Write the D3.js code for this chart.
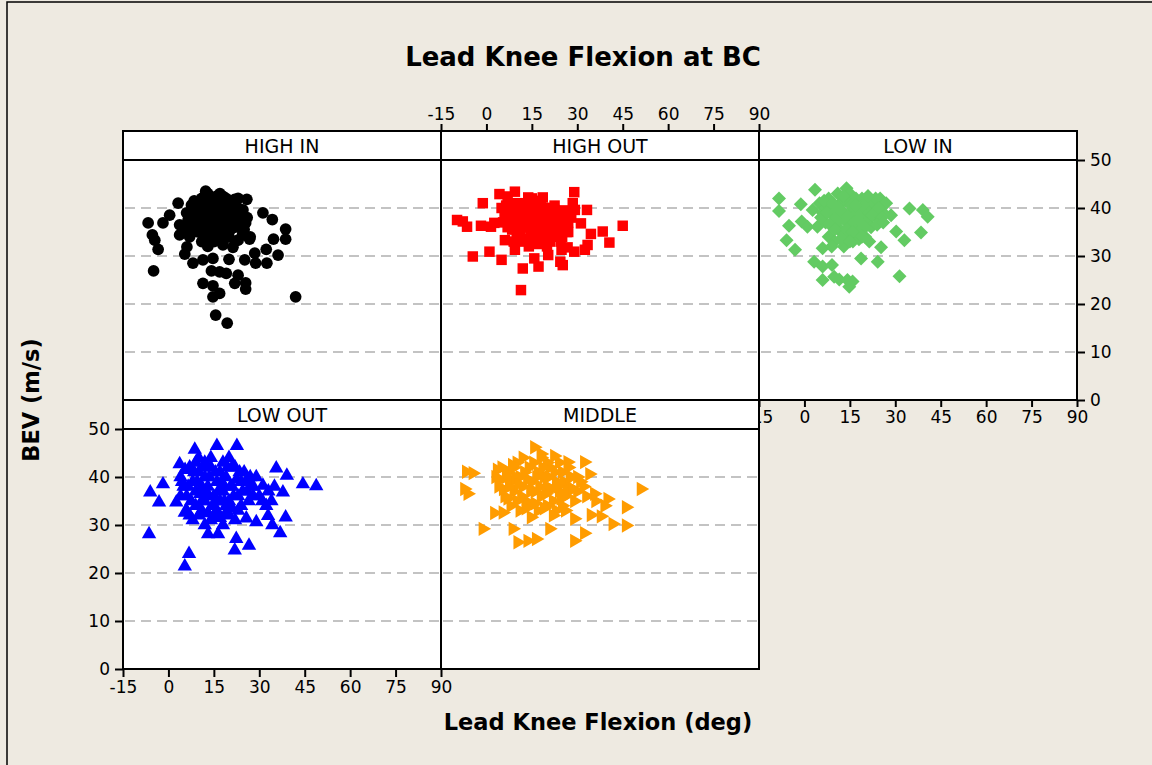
<!DOCTYPE html>
<html><head><meta charset="utf-8">
<script src="https://cdn.jsdelivr.net/npm/d3@7"></script>
<style>
html,body{margin:0;padding:0;background:#EEEAE1;}
svg text{font-family:"DejaVu Sans",sans-serif;}
</style></head>
<body>
<svg id="c" width="1152" height="765"></svg>
<script>
// ---- data (x = lead knee flexion deg, y = BEV m/s) ----
const panelNames = ["HIGH IN","HIGH OUT","LOW IN","LOW OUT","MIDDLE"];
const xTicks = [-15,0,15,30,45,60,75,90];
const yTicks = [0,10,20,30,40,50];
const gridValues = [10,20,30,40];

const highIn = [[12.3,43.5],[3.2,41],[-6.7,36.9],[-5.3,34.4],[-4.5,33.3],[-3.4,31.4],[-4.9,26.9],[-1.8,36.9],[0.4,38.5],[3.7,36.5],[3.7,34.4],[5.4,30.4],[6.1,31.9],[8.1,28.5],[7.6,40.6],[18,42.4],[21.9,41.8],[25.9,41.8],[31.2,39],[34.3,37.6],[38.7,35.6],[38.7,33.5],[34.7,33.5],[36.2,30.2],[32.5,28.5],[28.8,28.5],[25.2,29.2],[28.5,30.6],[32.3,31.4],[26.8,33.5],[23,33.3],[18,32.3],[21.3,31.8],[20,29.3],[14.7,29.5],[11.4,29.2],[14.2,26.9],[16.9,26.7],[19.1,26.4],[23,26],[21.9,24.3],[25.5,24.4],[25.5,23.1],[11.4,24.3],[14.7,23.8],[16.9,22.2],[14.7,21.5],[15.6,17.7],[19.4,16],[42,21.5],[25.5,36.9],[23.5,38.9],[24.6,39.6],
[8,40],[9,38],[10,37],[11,39],[12,36],[13,41],[14,38],[15,40],[16,37],[17,39],[18,36],[19,40],[20,38],[21,37],[22,39],[10,35],[12,34],[14,35],[16,34],[18,33],[9,41],[11,42],[13,43],[15,42],[17,41],[19,42],[21,41],[23,40],[7,38],[8,35],[11,33],[13,32],[15,33],[17,36],[19,35],[20,34],[22,36],[24,37],[6,39],[12,38],[14,37],[16,39],[18,38],[20,40],[10,40],[17,43],[23,42],
[6.5,37.5],[7.5,36],[8.5,41.5],[9.5,39.5],[10.5,36.5],[11.5,34.5],[12.5,39.5],[13.5,37.5],[14.5,40.5],[15.5,36.5],[16.5,41.5],[17.5,38],[18.5,40],[19.5,37],[20.5,35.5],[21.5,39.5],[22.5,38],[23.5,36],[24.5,34.5],[9,36],[11,37.5],[13,34],[15,38],[17,34],[19,38.5],[21,36],[23,37.5],[12,42.5],[16,42.5],[20,41.5],[8,37],[10,39],[14,33.5],[18,34.5],[22,33],[25,35.5],[26,38],[27,34],[7,34],[6,35.5]];

const highOut = [[-9.7,37.5],[-7.8,37.2],[-6.4,36.1],[-4.5,29.9],[-1.8,36.3],[-1.2,41],[1,30.9],[1.5,36.1],[2.6,36.9],[4.3,42.9],[9.4,43.4],[7,42.4],[5,29.2],[6.1,33.3],[9.4,31.3],[12,27.4],[11.4,22.9],[13.8,42.2],[18.6,42.2],[15.8,29.5],[17.2,27.8],[20.4,30.2],[24.4,28.8],[25.2,28.1],[24.8,31.3],[29,43.3],[28.5,41],[29.2,39.6],[33.2,39.6],[31.2,36.8],[34.5,34.6],[38.4,35.1],[40.6,32.8],[45,36.3],[33.4,32.3],[32.5,31.3],[29,30.9],[26.8,31.8],[22.4,39.6],
[5,40],[6,38],[7,36],[8,39],[9,37],[10,41],[11,35],[12,38],[13,40],[14,36],[15,39],[16,37],[17,41],[18,35],[19,38],[20,36],[21,40],[22,37],[23,35],[24,38],[25,36],[26,39],[27,37],[12,33],[14,32],[16,34],[18,33],[20,32],[22,34],[10,34],[15,42],[19,40],[23,39],[13,37],[17,36],[21,38],[25,34],[8,41],[11,39],[27,35],
[5.5,37],[6.5,40.5],[7.5,38],[8.5,35.5],[9.5,39],[10.5,37],[11.5,41],[12.5,36],[13.5,39],[14.5,34.5],[15.5,37.5],[16.5,40],[17.5,38],[18.5,36.5],[19.5,34],[20.5,39],[21.5,36.5],[22.5,40.5],[23.5,37],[24.5,33],[25.5,39.5],[26.5,35],[10,38.5],[12,40],[14,38],[16,35.5],[18,39.5],[20,37.5],[22,35.5],[24,36.5],[13,33.5],[17,32.5],[21,33],[15,35],[19,36],[11,36.5],[9,33],[28,38],[14,41],[18,41.5]];

const lowIn = [[-8.4,42],[-8.4,39.4],[-5.1,36.3],[-5.9,33.3],[-3.1,31.3],[-1.2,40.8],[-0.9,37.2],[1,36.1],[3.5,43.8],[2.7,39.6],[4.3,36.1],[6,31.6],[3.2,28.8],[6,27.8],[9.1,28.1],[6,25],[9.8,25.7],[11.5,25.1],[14.2,25],[14.8,23.6],[15.9,24.7],[13.9,44.1],[18.7,29.5],[24.2,28.8],[25.3,31.8],[31.4,25.8],[28.6,38.5],[30.3,35.1],[33,33.3],[34.7,39.9],[39.1,39.6],[40.7,38.2],[38.5,34.9],[21.4,33],
[5,41],[6,39],[7,37],[8,42],[9,40],[10,38],[11,36],[12,41],[13,39],[14,37],[15,43],[16,40],[17,38],[18,36],[19,42],[20,39],[21,37],[22,41],[23,40],[24,38],[25,42],[26,39],[8,34],[10,33],[12,35],[14,34],[16,33],[18,35],[20,34],[9,32],[13,32],[17,42],[11,43],[19,40],[15,36],[22,36],[27,41],[7,40],
[5.5,38],[6.5,41.5],[7.5,39],[8.5,36.5],[9.5,41],[10.5,39.5],[11.5,37.5],[12.5,39],[13.5,41.5],[14.5,38.5],[15.5,40.5],[16.5,37],[17.5,39.5],[18.5,38],[19.5,36.5],[20.5,41],[21.5,39],[22.5,38.5],[23.5,42],[24.5,40],[25.5,38],[10,35.5],[12,33.5],[14,35.5],[16,35],[18,33.5],[20,36],[15,33],[11,40],[13,42.5],[17,40.5],[21,42.5],[19,34],[24,36.5],[26,37]];

const lowOut = [[8.7,45.7],[16,46.5],[22.6,46.5],[-6.4,28.1],[-6,36.8],[-1.8,38.5],[-3.1,34.7],[6.8,24],[5.4,21.4],[5.4,32.6],[21.9,24.7],[26.6,25.7],[22.4,27.1],[13.1,28.1],[16.4,28.1],[35.6,41.8],[39.1,40.3],[44.4,38.5],[48.8,38.1],[38.7,31.6],[36.9,28.3],[34.3,30],[29,30.6],[25.7,31.4],[32.9,31.9],[32.3,34],[31.2,38.2],[37.8,36.8],[3.7,42.7],[2.6,34.7],
[4,40],[5,38],[6,36],[7,42],[8,39],[9,37],[10,41],[11,35],[12,40],[13,38],[14,42],[15,36],[16,39],[17,41],[18,37],[19,40],[20,35],[21,38],[22,42],[23,36],[24,39],[25,41],[26,37],[27,40],[28,38],[6,33],[8,31],[10,32],[12,30],[14,31],[16,33],[18,30],[20,32],[22,31],[9,43],[12,43],[18,43],[21,42],[24,34],[15,34],[11,38],[17,35],[13,36],[19,34],[4,36],[30,36],[33,37],[35,38],
[4.5,39],[5.5,41.5],[6.5,38],[7.5,35],[8.5,41],[9.5,39],[10.5,36.5],[11.5,42],[12.5,37],[13.5,40],[14.5,34],[15.5,41],[16.5,37],[17.5,39],[18.5,35],[19.5,42],[20.5,38],[21.5,36],[22.5,39.5],[23.5,41],[24.5,37],[25.5,39],[26.5,35],[27.5,38],[7,32],[9,34],[11,33],[13,32.5],[15,32],[17,31.5],[19,32.5],[21,33.5],[23,33],[10,44],[14,44],[20,44],[16,35],[12,35],[18,38.5],[28,36],[29,40],[31,35],[34,35]];

const middle = [[15.8,46.2],[-6.7,41.1],[-4.5,40.8],[-7.3,37.5],[-6.2,36.5],[-1.2,29.2],[2.6,32.5],[5.4,32.6],[8.7,29.2],[10.3,26.4],[13.6,26.7],[16.4,27.1],[20.8,29.2],[29,26.7],[32.3,28.3],[29,31.3],[34.5,32.1],[37.8,31.8],[41.7,30.2],[46.1,29.9],[46.1,33.7],[40,35.4],[51,37.5],[32.3,43.1],[34,40.6],[26.8,43.1],[22.4,44.4],[18,44.8],[35.6,36.5],[14.7,31.6],
[3,40],[4,38],[5,42],[6,36],[7,41],[8,39],[9,37],[10,43],[11,40],[12,38],[13,35],[14,42],[15,39],[16,37],[17,41],[18,36],[19,40],[20,38],[21,42],[22,35],[23,39],[24,37],[25,41],[26,36],[27,38],[28,40],[29,35],[30,37],[8,34],[11,33],[14,34],[17,33],[20,34],[23,33],[26,33],[12,44],[20,43],[9,42],[27,42],[31,39],[33,36],[36,35],[39,34],
[3.5,41.5],[4.5,39.5],[5.5,37.5],[6.5,40],[7.5,38],[8.5,42.5],[9.5,40],[10.5,38.5],[11.5,36],[12.5,41],[13.5,39.5],[14.5,37],[15.5,43],[16.5,40],[17.5,38],[18.5,42],[19.5,36.5],[20.5,40],[21.5,37.5],[22.5,41],[23.5,38],[24.5,35.5],[25.5,39],[26.5,37],[27.5,40],[28.5,37.5],[10,35],[13,33.5],[16,34.5],[19,33.5],[22,32],[25,34],[7,35.5],[18,44],[24,43],[30,40],[32,38]];

const panelData = [highIn, highOut, lowIn, lowOut, middle];
const colors = ["#000000","#FF0000","#63CB63","#0000FF","#FF9C00"];

// ---- layout ----
const svg = d3.select("#c");
const W = 318, stripH = 28, plotH = 240;
const colX = [123, 441, 759];
const rowY = [131, 400];
const cells = [[0,0],[0,1],[0,2],[1,0],[1,1]]; // [row,col]

// outer frame
svg.append("rect").attr("x",7).attr("y",2).attr("width",1160).attr("height",780)
  .attr("fill","#EEEAE1").attr("stroke","#000").attr("stroke-width",1.5);

svg.append("text").attr("x",583).attr("y",66).attr("text-anchor","middle")
  .attr("font-size",26).attr("font-weight","bold").text("Lead Knee Flexion at BC");
svg.append("text").attr("x",598).attr("y",730).attr("text-anchor","middle")
  .attr("font-size",22.5).attr("font-weight","bold").text("Lead Knee Flexion (deg)");
svg.append("text").attr("transform","translate(39,400) rotate(-90)").attr("text-anchor","middle")
  .attr("font-size",22.5).attr("font-weight","bold").text("BEV (m/s)");

function symbolFor(i){
  const g = d3.symbol();
  if(i===0) return {path:g.type(d3.symbolCircle).size(108)(), rot:0};
  if(i===1) return {path:g.type(d3.symbolSquare).size(110)(), rot:0};
  if(i===2) return {path:g.type(d3.symbolSquare).size(98)(), rot:45};
  if(i===3) return {path:g.type(d3.symbolTriangle).size(90)(), rot:0};
  return {path:g.type(d3.symbolTriangle).size(90)(), rot:90};
}
const fmt = d => String(d);

cells.forEach(([r,c],i)=>{
  const x0 = colX[c], y0 = rowY[r];
  const py0 = y0 + stripH + 1;
  const x = d3.scaleLinear().domain([-15,90]).range([x0, x0+W]);
  const y = d3.scaleLinear().domain([0,50]).range([y0+stripH+plotH+1, py0]);
  const g = svg.append("g");
  g.append("rect").attr("x",x0).attr("y",y0).attr("width",W).attr("height",stripH+plotH+1)
    .attr("fill","#fff");
  // grid
  g.selectAll("line.grid").data(gridValues).join("line")
    .attr("x1",x0+2).attr("x2",x0+W-2).attr("y1",d=>y(d)).attr("y2",d=>y(d))
    .attr("stroke","#C3C3C3").attr("stroke-width",2).attr("stroke-dasharray","10,6");
  // points
  const s = symbolFor(i);
  g.append("g").selectAll("path").data(panelData[i]).join("path")
    .attr("d",s.path)
    .attr("transform",d=>`translate(${x(d[0])},${y(d[1])}) rotate(${s.rot})`)
    .attr("fill",colors[i]);
  // strip
  g.append("line").attr("x1",x0).attr("x2",x0+W).attr("y1",y0+stripH+1).attr("y2",y0+stripH+1)
    .attr("stroke","#000").attr("stroke-width",2);
  g.append("text").attr("x",x0+W/2).attr("y",y0+22).attr("text-anchor","middle")
    .attr("font-size",19).text(panelNames[i]);
  g.append("rect").attr("x",x0).attr("y",y0).attr("width",W).attr("height",stripH+plotH+1)
    .attr("fill","none").attr("stroke","#000").attr("stroke-width",2);

  const styleAxis = a => {
    a.select(".domain").remove();
    a.selectAll(".tick line").attr("stroke","#000").attr("stroke-width",2);
    a.selectAll(".tick text").attr("font-size",17).attr("fill","#000")
      .attr("font-family","'DejaVu Sans',sans-serif");
  };
  if(i===1){
    const a = g.append("g").attr("transform",`translate(0,${y0})`)
      .call(d3.axisTop(x).tickValues(xTicks).tickFormat(fmt).tickSize(7).tickPadding(4));
    styleAxis(a);
  }
  if(i===2){
    const a = g.append("g").attr("transform",`translate(${x0+W},0)`)
      .call(d3.axisRight(y).tickValues(yTicks).tickFormat(fmt).tickSize(8).tickPadding(5));
    styleAxis(a);
    const b = g.append("g").attr("transform",`translate(0,${y(0)})`)
      .call(d3.axisBottom(x).tickValues(xTicks).tickFormat(fmt).tickSize(7).tickPadding(4));
    styleAxis(b);
  }
  if(i===3){
    const a = g.append("g").attr("transform",`translate(${x0},0)`)
      .call(d3.axisLeft(y).tickValues(yTicks).tickFormat(fmt).tickSize(8).tickPadding(5));
    styleAxis(a);
    const b = g.append("g").attr("transform",`translate(0,${y(0)})`)
      .call(d3.axisBottom(x).tickValues(xTicks).tickFormat(fmt).tickSize(8).tickPadding(4));
    styleAxis(b);
  }
});
</script>
</body></html>
